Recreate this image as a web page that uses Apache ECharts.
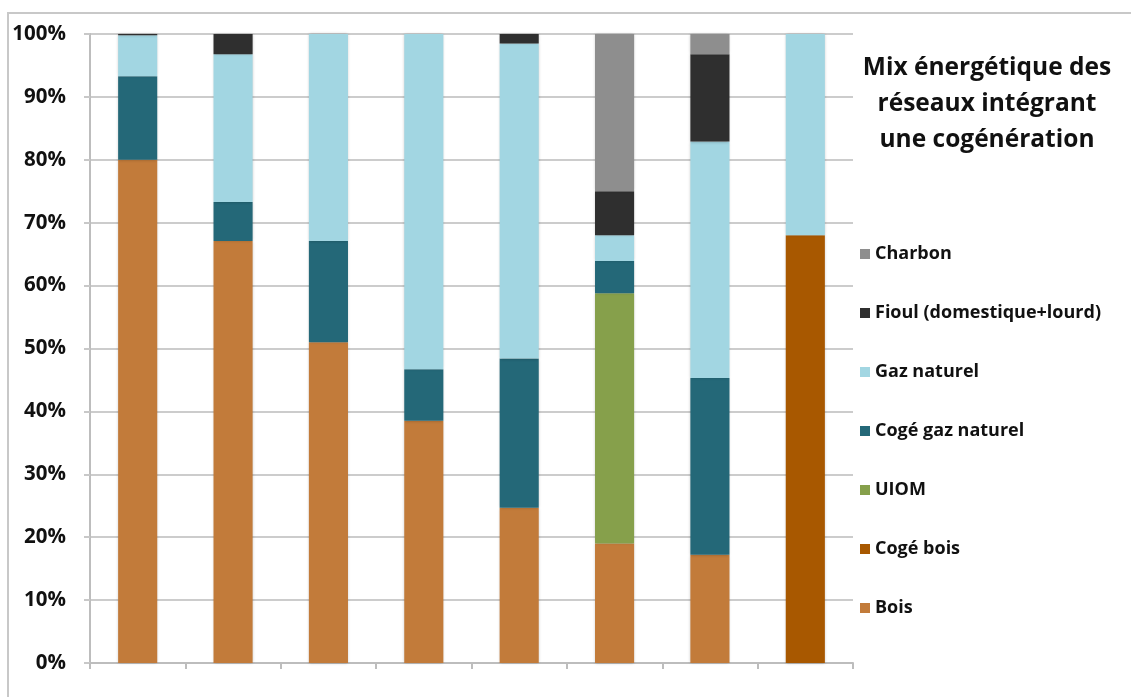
<!DOCTYPE html>
<html>
<head>
<meta charset="utf-8">
<script src="https://cdn.jsdelivr.net/npm/echarts@6/dist/echarts.min.js"></script>
<style>
  html, body { margin: 0; padding: 0; background: #fff; }
  #chart { width: 1131px; height: 697px; }
</style>
</head>
<body>
<div id="chart"></div>
<script>
// categories (unnamed networks)
const categories = ['1', '2', '3', '4', '5', '6', '7', '8']
const yTicks = [0, 10, 20, 30, 40, 50, 60, 70, 80, 90, 100]

// shares in %, stacked bottom -> top
const bois = [80, 67.1, 51, 38.5, 24.7, 19, 17.2, 0]
const cogeBois = [0, 0, 0, 0, 0, 0, 0, 68]
const uiom = [0, 0, 0, 0, 0, 39.8, 0, 0]
const cogeGaz = [13.3, 6.2, 16.1, 8.2, 23.7, 5.1, 28.1, 0]
const gazNaturel = [6.5, 23.5, 32.9, 53.3, 50.1, 4.1, 37.6, 32]
const fioul = [0.2, 3.2, 0, 0, 1.5, 7, 13.9, 0]
const charbon = [0, 0, 0, 0, 0, 25, 3.2, 0]

const seriesDefs = [
  { name: 'Bois', data: bois, color: '#c27b3a' },
  { name: 'Cogé bois', data: cogeBois, color: '#a85800' },
  { name: 'UIOM', data: uiom, color: '#86a04b' },
  { name: 'Cogé gaz naturel', data: cogeGaz, color: '#246878' },
  { name: 'Gaz naturel', data: gazNaturel, color: '#a2d6e2' },
  { name: 'Fioul (domestique+lourd)', data: fioul, color: '#2f2f2f' },
  { name: 'Charbon', data: charbon, color: '#8e8e8e' }
]

const font = '"Open Sans", Lato, sans-serif'

const chart = echarts.init(document.getElementById('chart'))
chart.setOption({
  animation: false,
  textStyle: { fontFamily: font },
  graphic: [
    {
      type: 'rect',
      shape: { x: 8, y: 13, width: 1200, height: 800 },
      style: { fill: 'none', stroke: '#c8c8c8', lineWidth: 2 },
      silent: true
    },
    {
      type: 'text',
      x: 987,
      y: 50,
      style: {
        text: 'Mix énergétique des\nréseaux intégrant\nune cogénération',
        align: 'center',
        verticalAlign: 'top',
        fontFamily: font,
        fontWeight: 'bold',
        fontSize: 24.5,
        lineHeight: 36,
        fill: '#111'
      }
    }
  ],
  legend: {
    orient: 'vertical',
    left: 855,
    top: 239,
    itemWidth: 10,
    itemHeight: 10,
    itemGap: 39,
    icon: 'rect',
    data: seriesDefs.map(s => s.name).reverse(),
    textStyle: { fontFamily: font, fontWeight: 'bold', fontSize: 18, lineHeight: 20, color: '#111' }
  },
  grid: { left: 90, right: 278, top: 34, bottom: 34, containLabel: false },
  xAxis: {
    type: 'category',
    data: categories,
    axisLine: { lineStyle: { color: '#bdbdbd', width: 2 } },
    axisTick: { show: true, length: 6, lineStyle: { color: '#bdbdbd', width: 2 } },
    axisLabel: { show: false }
  },
  yAxis: {
    type: 'value',
    min: 0,
    max: 100,
    interval: 10,
    axisLine: { show: true, lineStyle: { color: '#bdbdbd', width: 2 } },
    axisTick: { show: true, length: 6, lineStyle: { color: '#c8c8c8', width: 2 } },
    axisLabel: {
      formatter: '{value}%',
      fontFamily: font,
      fontWeight: 'bold',
      fontSize: 20.5,
      color: '#111',
      margin: 24
    },
    splitLine: { lineStyle: { color: '#cccccc', width: 2 } }
  },
  series: seriesDefs.map(s => ({
    name: s.name,
    type: 'bar',
    stack: 'mix',
    barWidth: '41%',
    data: s.data,
    itemStyle: {
      color: s.color,
      shadowColor: 'rgba(0,0,0,0.25)',
      shadowBlur: 3
    }
  }))
})
</script>
</body>
</html>
